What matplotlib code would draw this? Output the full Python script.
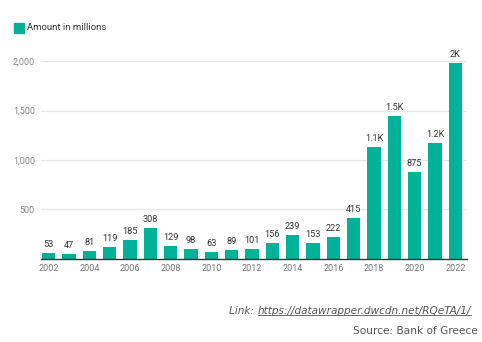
import matplotlib
matplotlib.use("Agg")
import matplotlib.pyplot as plt
from matplotlib.patches import Rectangle

# data
years = list(range(2002, 2023))
amounts = [53, 47, 81, 119, 185, 308, 129, 98, 63, 89, 101,
           156, 239, 153, 222, 415, 1130, 1450, 875, 1175, 1980]
labels = ["53", "47", "81", "119", "185", "308", "129", "98", "63", "89", "101",
          "156", "239", "153", "222", "415", "1.1K", "1.5K", "875", "1.2K", "2K"]
yticks = [500, 1000, 1500, 2000]
xticks = list(range(2002, 2023, 2))

teal = "#00b398"
plt.rcParams["font.family"] = ["Roboto", "DejaVu Sans"]

fig = plt.figure(figsize=(4.82, 3.42), dpi=100)
W, H = 482, 342
ax = fig.add_axes([40.5 / W, 1 - 258.5 / H, 426 / W, 197.2 / H])

ax.bar(years, amounts, width=0.66, color=teal, zorder=3)
for x, v, lab in zip(years, amounts, labels):
    ax.text(x, v + 40, lab, ha="center", va="bottom", fontsize=6.6, color="#333333")

ax.set_xlim(2001.6, 2022.55)
ax.set_ylim(0, 2000)
ax.set_yticks(yticks)
ax.set_yticklabels([f"{t:,}" for t in yticks])
ax.set_xticks(xticks)
ax.set_xticklabels([str(t) for t in xticks])
ax.tick_params(axis="y", length=0, pad=4, labelsize=6.5, labelcolor="#888888")
ax.tick_params(axis="x", length=0, pad=4, labelsize=6.5, labelcolor="#777777")
ax.grid(axis="y", color="#e6e6e6", linewidth=0.9, zorder=0)
for s in ["top", "right", "left"]:
    ax.spines[s].set_visible(False)
ax.spines["bottom"].set_color("#333333")
ax.spines["bottom"].set_linewidth(1.0)
ax.spines["bottom"].set_zorder(4)

# legend
fig.patches.append(Rectangle((14 / W, 1 - 33 / H), 10 / W, 10 / H,
                             transform=fig.transFigure, color=teal))
fig.text(27 / W, 1 - 28 / H, "Amount in millions", fontsize=6.8,
         color="#333333", va="center", ha="left")

# footer
foot = dict(color="#555555", va="center", family=["DejaVu Sans"], fontsize=7.6)
fig.canvas.draw()
r = fig.canvas.get_renderer()

t_url = fig.text(471 / W, 1 - 311 / H, "https://datawrapper.dwcdn.net/RQeTA/1/",
                 ha="right", style="italic", **foot)
bb = t_url.get_window_extent(r)
fig.text(bb.x0 / W, 1 - 311 / H, "Link: ", ha="right", style="italic", **foot)
fig.lines.append(plt.Line2D([bb.x0 / W, bb.x1 / W], [(bb.y0 + 1.5) / H] * 2,
                            transform=fig.transFigure, color="#555555", linewidth=0.6))
fig.text(478 / W, 1 - 331 / H, "Source: Bank of Greece", ha="right", **foot)

fig.savefig("out.png", dpi=100)
